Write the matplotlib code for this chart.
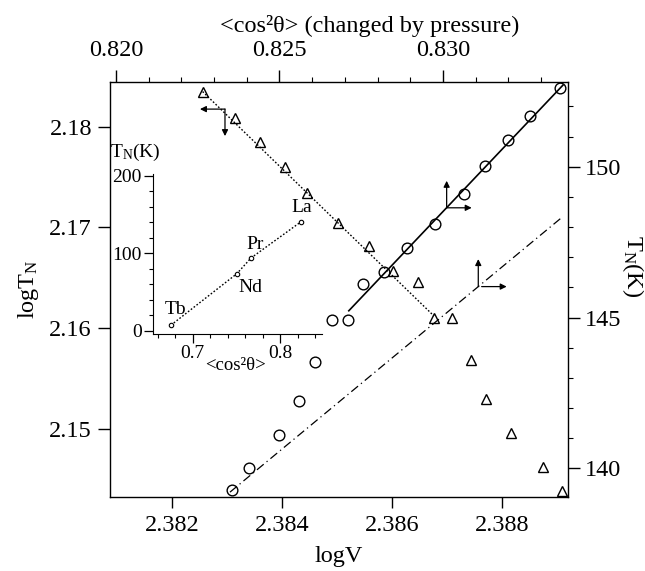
import matplotlib.pyplot as plt
import numpy as np
from matplotlib.ticker import MultipleLocator, FormatStrFormatter

plt.rcParams['font.family'] = ['Liberation Serif', 'DejaVu Serif']
plt.rcParams['mathtext.fontset'] = 'custom'
plt.rcParams['mathtext.rm'] = 'Liberation Serif'
plt.rcParams['mathtext.it'] = 'Liberation Serif:italic'

# circles: logTN vs logV (bottom / left axes)
logV = [2.383085, 2.3834, 2.383945, 2.384315, 2.3846, 2.384904, 2.385209, 2.385467,
        2.38586, 2.386278, 2.386782, 2.387315, 2.387691, 2.388115, 2.388509, 2.389055]
logTN = [2.14394, 2.14607, 2.14940, 2.15272, 2.15659, 2.16076, 2.16076, 2.16437,
         2.16553, 2.16791, 2.17033, 2.17334, 2.17606, 2.17870, 2.18108, 2.18380]
fit_logV = [2.385215, 2.389109]
fit_logTN = [2.16172, 2.18413]
ref_logV = [2.383055, 2.389073]
ref_logTN = [2.14371, 2.17092]

# triangles: TN vs <cos^2 theta> (top / right axes)
cos2 = [0.822651, 0.823639, 0.824404, 0.825168, 0.82585, 0.826798, 0.827737, 0.82848,
        0.829226, 0.829725, 0.830266, 0.830847, 0.831315, 0.83207, 0.833058, 0.83363]
TN = [152.49, 151.60, 150.83, 150.00, 149.14, 148.14, 147.37, 146.55,
      146.19, 144.98, 144.98, 143.59, 142.29, 141.16, 140.03, 139.26]
dot_cos2 = [0.822651, 0.829725]
dot_TN = [152.49, 145.05]

# inset: TN vs <cos^2 theta> for the series
ins_cos2 = [0.675, 0.7504, 0.7668, 0.824]
ins_TN = [7.3, 73.5, 93.9, 140.5]
ins_names = ['Tb', 'Nd', 'Pr', 'La']
ins_offsets = [(3, 11), (10, -10), (3, 10), (0.5, 10)]

fig = plt.figure(figsize=(6.45, 5.71), dpi=100)
rect = [0.1705, 0.1296, 0.7101, 0.7268]
ax = fig.add_axes(rect)
ax2 = fig.add_axes(rect, frameon=False)

ax.plot(logV, logTN, 'o', ms=7.7, mfc='none', mec='k', mew=1.0)
ax.plot(fit_logV, fit_logTN, '-', color='k', lw=1.2)
ax.plot(ref_logV, ref_logTN, color='k', lw=0.9, ls=(0, (7, 3, 1, 3)))
ax.set_xlim(2.380873, 2.3892)
ax.set_ylim(2.143227, 2.184439)
ax.set_xticks([2.382, 2.384, 2.386, 2.388])
ax.set_yticks([2.15, 2.16, 2.17, 2.18])
ax.xaxis.set_major_formatter(FormatStrFormatter('%.3f'))
ax.yaxis.set_major_formatter(FormatStrFormatter('%.2f'))
ax.tick_params(axis='x', direction='out', length=8, width=1, labelsize=17.5, pad=5)
ax.tick_params(axis='y', direction='out', length=9, width=1, labelsize=17.5, pad=4)
ax.set_xlabel('logV', fontsize=17.5, labelpad=7)
ax.set_ylabel(r'$\mathregular{logT_N}$', fontsize=17.5, labelpad=6)
for s in ax.spines.values():
    s.set_linewidth(1.0)

ax2.plot(cos2, TN, '^', ms=7, mfc='none', mec='k', mew=1.0)
ax2.plot(dot_cos2, dot_TN, color='k', lw=1.0, ls=(0, (1.2, 1.4)))
ax2.set_xlim(0.81982, 0.83382)
ax2.set_ylim(139.052, 152.807)
ax2.xaxis.tick_top()
ax2.yaxis.tick_right()
ax2.set_xticks([0.820, 0.825, 0.830])
ax2.xaxis.set_minor_locator(MultipleLocator(0.001))
ax2.set_yticks([140, 145, 150])
ax2.yaxis.set_minor_locator(MultipleLocator(1))
ax2.xaxis.set_major_formatter(FormatStrFormatter('%.3f'))
ax2.tick_params(which='major', direction='out', length=8.5, width=1, labelsize=17.5)
ax2.tick_params(which='minor', direction='out', length=3.5, width=0.8)
ax2.tick_params(axis='x', which='major', pad=6.5)
ax2.tick_params(axis='y', which='major', pad=4)
fig.text(370 / 645, 1 - 26 / 571, '<cos²θ> (changed by pressure)', fontsize=17.5,
         ha='center', va='center')
ax2.text(1.142, 0.557, r'$\mathregular{T_N(K)}$', transform=ax2.transAxes,
         rotation=-90, ha='center', va='center', fontsize=17.5)

# arrows marking which axes each line belongs to
arrow_kw = dict(arrowstyle='-|>', color='k', lw=0.9, mutation_scale=9, shrinkA=0, shrinkB=0)
arrows = [((2.382964, 2.181747), (2.382509, 2.181747)),
          ((2.382964, 2.181747), (2.382964, 2.179066)),
          ((2.386994, 2.171946), (2.386994, 2.174627)),
          ((2.386994, 2.171946), (2.387449, 2.171946)),
          ((2.387569, 2.164121), (2.387569, 2.166852)),
          ((2.387630, 2.164121), (2.388085, 2.164121))]
for start, end in arrows:
    ax.annotate('', xy=end, xytext=start, arrowprops=arrow_kw)

# inset
axi = fig.add_axes([0.2372, 0.4151, 0.262, 0.2802])
axi.patch.set_alpha(0)
axi.plot(ins_cos2, ins_TN, color='k', lw=1.0, ls=(0, (1.2, 1.4)))
axi.plot(ins_cos2, ins_TN, 'o', ms=3.2, mfc='white', mec='k', mew=0.8)
for n, xv, yv, off in zip(ins_names, ins_cos2, ins_TN, ins_offsets):
    axi.annotate(n, (xv, yv), xytext=off, textcoords='offset points',
                 ha='center', va='center', fontsize=14)
axi.set_xlim(0.6545, 0.848)
axi.set_ylim(-4, 202)
axi.spines['top'].set_visible(False)
axi.spines['right'].set_visible(False)
axi.set_xticks([0.7, 0.8])
axi.xaxis.set_minor_locator(MultipleLocator(0.02))
axi.set_yticks([0, 100, 200])
axi.yaxis.set_minor_locator(MultipleLocator(20))
axi.tick_params(which='major', direction='out', length=6.5, width=0.9, labelsize=14, pad=1.5)
axi.tick_params(which='minor', direction='out', length=3, width=0.8)
axi.text(0.488, -0.2, '<cos²θ>', transform=axi.transAxes, ha='center', va='center',
         fontsize=13.5)
axi.text(-0.107, 1.1375, r'$\mathregular{T_N(K)}$', transform=axi.transAxes,
         ha='center', va='center', fontsize=14)

fig.savefig('out.png', dpi=100)
